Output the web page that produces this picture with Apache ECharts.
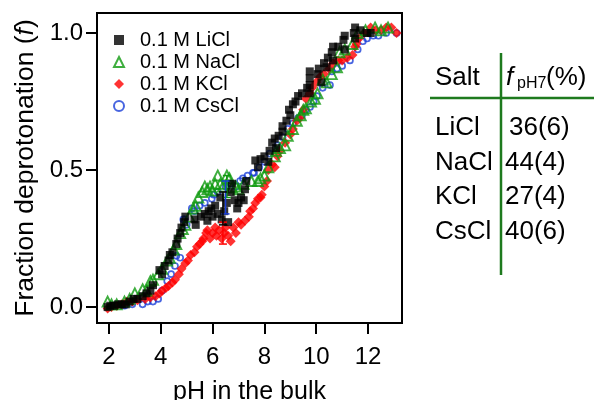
<!DOCTYPE html>
<html>
<head>
<meta charset="utf-8">
<script src="https://cdn.jsdelivr.net/npm/echarts@6/dist/echarts.min.js"></script>
<style>html,body{margin:0;padding:0;background:#fff;}#chart{width:594px;height:400px;}</style>
</head>
<body>
<div id="chart"></div>
<script>
// ---- data ----
const xTicks = [2, 4, 6, 8, 10, 12];
const yTicks = [0, 0.5, 1.0];
const seriesNames = ['0.1 M LiCl', '0.1 M NaCl', '0.1 M KCl', '0.1 M CsCl'];

const liclData = [[1.95,0.0],[2.05,0.005],[2.2,0.005],[2.35,0.01],[2.5,0.01],[2.65,0.01],[2.8,0.02],[2.95,0.03],[3.1,0.03],[3.3,0.04],[3.45,0.05],[3.6,0.06],[3.7,0.08],[3.95,0.135],[4.05,0.12],[4.15,0.15],[4.3,0.17],[4.35,0.19],[4.45,0.2],[4.6,0.23],[4.65,0.25],[4.75,0.27],[4.8,0.29],[4.9,0.31],[4.95,0.33],[5.3,0.32],[5.35,0.30],[5.55,0.33],[5.7,0.34],[5.8,0.315],[5.85,0.35],[5.95,0.36],[6.0,0.33],[6.1,0.37],[6.2,0.34],[6.3,0.40],[6.35,0.32],[6.45,0.35],[6.55,0.38],[6.6,0.31],[6.7,0.42],[6.75,0.45],[6.85,0.39],[6.95,0.36],[7.0,0.38],[7.1,0.40],[7.2,0.39],[7.25,0.43],[7.3,0.46],[7.65,0.535],[7.75,0.51],[7.85,0.54],[8.0,0.55],[8.15,0.53],[8.2,0.57],[8.3,0.6],[8.4,0.615],[8.45,0.58],[8.55,0.625],[8.7,0.66],[8.7,0.64],[8.85,0.68],[8.95,0.72],[9.0,0.70],[9.1,0.74],[9.2,0.75],[9.3,0.77],[9.45,0.78],[9.65,0.80],[9.75,0.835],[9.75,0.81],[9.75,0.86],[9.75,0.78],[10.05,0.85],[10.1,0.87],[10.2,0.82],[10.3,0.89],[10.4,0.875],[10.45,0.91],[10.6,0.93],[10.65,0.95],[10.65,0.90],[10.85,0.95],[11.05,0.975],[11.1,0.99],[11.1,0.94],[11.45,1.0],[11.5,1.02],[11.5,0.98],[11.7,1.01],[11.95,1.0],[12.1,1.0]];

const naclData = [[1.95,0.02],[2.1,0.01],[2.3,0.01],[2.6,0.02],[2.8,0.03],[3.0,0.05],[3.3,0.065],[3.45,0.06],[3.6,0.095],[3.7,0.1],[3.9,0.12],[4.05,0.14],[4.25,0.17],[4.35,0.18],[4.5,0.21],[4.6,0.23],[4.75,0.27],[4.85,0.285],[4.95,0.3],[5.1,0.33],[5.25,0.36],[5.35,0.37],[5.45,0.40],[5.6,0.42],[5.7,0.44],[5.8,0.43],[5.9,0.44],[6.0,0.425],[6.1,0.45],[6.2,0.48],[6.3,0.45],[6.4,0.44],[6.55,0.48],[6.65,0.47],[6.75,0.436],[6.9,0.44],[7.0,0.43],[7.2,0.45],[7.5,0.46],[7.75,0.46],[7.85,0.47],[8.0,0.48],[8.15,0.51],[8.4,0.55],[8.45,0.57],[8.6,0.58],[8.8,0.59],[8.9,0.625],[9.1,0.65],[9.25,0.68],[9.4,0.70],[9.5,0.72],[9.6,0.725],[9.8,0.75],[9.95,0.76],[10.05,0.78],[10.25,0.83],[10.4,0.82],[10.6,0.85],[10.8,0.875],[10.9,0.93],[11.1,0.94],[11.4,0.96],[11.6,1.0],[11.9,1.01],[12.27,1.02],[12.5,1.01],[12.77,1.02]];

const kclData = [[1.95,-0.005],[2.1,0.0],[2.3,0.005],[2.5,0.01],[2.7,0.02],[2.9,0.02],[3.1,0.025],[3.4,0.03],[3.6,0.035],[3.8,0.04],[3.95,0.05],[4.05,0.06],[4.2,0.07],[4.3,0.077],[4.45,0.09],[4.55,0.1],[4.7,0.12],[4.8,0.14],[4.95,0.16],[5.05,0.17],[5.15,0.19],[5.3,0.2],[5.4,0.22],[5.5,0.23],[5.6,0.24],[5.65,0.25],[5.75,0.27],[5.8,0.28],[5.9,0.25],[6.0,0.27],[6.1,0.29],[6.15,0.26],[6.25,0.28],[6.35,0.25],[6.45,0.27],[6.5,0.29],[6.6,0.26],[6.7,0.24],[6.8,0.29],[6.9,0.27],[7.0,0.31],[7.1,0.30],[7.25,0.315],[7.4,0.33],[7.45,0.35],[7.56,0.36],[7.65,0.38],[7.75,0.395],[7.85,0.40],[7.9,0.41],[8.0,0.44],[8.1,0.46],[8.15,0.50],[8.3,0.52],[8.4,0.51],[8.5,0.55],[8.6,0.57],[8.8,0.6],[9.0,0.63],[9.1,0.65],[9.25,0.68],[9.37,0.69],[9.5,0.72],[9.6,0.76],[9.75,0.78],[9.84,0.80],[10.0,0.82],[10.15,0.84],[10.3,0.85],[10.5,0.87],[10.65,0.89],[10.85,0.9],[11.0,0.9],[11.2,0.91],[11.4,0.92],[11.5,0.95],[11.55,0.96],[11.65,0.98],[11.85,1.0],[12.1,1.02],[12.3,1.01],[12.5,1.01],[12.7,1.02],[12.9,1.02],[13.1,1.0]];

const csclData = [[2.6,0.005],[2.9,0.01],[3.3,0.01],[3.5,0.02],[3.7,0.02],[3.9,0.03],[4.05,0.06],[4.25,0.095],[4.4,0.12],[4.55,0.15],[4.6,0.187],[4.75,0.18],[4.87,0.32],[4.93,0.32],[5.0,0.30],[5.2,0.36],[5.3,0.35],[5.5,0.37],[5.7,0.38],[5.97,0.395],[6.05,0.41],[6.2,0.42],[6.5,0.44],[6.7,0.45],[6.9,0.44],[7.06,0.46],[7.17,0.47],[7.35,0.48],[7.56,0.49],[7.6,0.49],[7.8,0.51],[8.0,0.53],[8.2,0.56],[8.5,0.59],[8.7,0.62],[8.9,0.65],[9.1,0.67],[9.3,0.69],[9.45,0.70],[9.6,0.72],[9.76,0.73],[9.9,0.75],[10.03,0.77],[10.25,0.80],[10.53,0.81],[10.6,0.86],[10.8,0.87],[11.0,0.88],[11.3,0.9],[11.6,0.94],[11.8,0.97],[11.96,0.98],[12.2,0.99],[12.4,0.99],[12.7,1.0],[13.1,1.0]];

// error bars: [pH, low, high]
const liclErr = [[6.4, 0.30, 0.42]];
const naclErr = [[6.55, 0.40, 0.48]];
const kclErr = [[6.4, 0.23, 0.31]];
const csclErr = [[6.5, 0.34, 0.46]];

// table
const tableSalts = ['LiCl', 'NaCl', 'KCl', 'CsCl'];
const tableValues = ['36(6)', '44(4)', '27(4)', '40(6)'];

// ---- chart ----
const FONT = '"Liberation Sans", Arial, Helvetica, sans-serif';
const GREEN = '#0f9a0f';
const BLUE = '#1a3fd8';
const RED = '#ff0000';
const TGREEN = '#1e7a1e';

function errSeries(name, data, color) {
  return {
    type: 'custom', name: name, data: data, z: 5, silent: true,
    renderItem: function (params, api) {
      const x = api.value(0);
      const lo = api.coord([x, api.value(1)]);
      const hi = api.coord([x, api.value(2)]);
      const w = 4;
      const st = { stroke: color, lineWidth: 1.5 };
      return { type: 'group', children: [
        { type: 'line', shape: { x1: lo[0], y1: lo[1], x2: hi[0], y2: hi[1] }, style: st },
        { type: 'line', shape: { x1: lo[0] - w, y1: lo[1], x2: lo[0] + w, y2: lo[1] }, style: st },
        { type: 'line', shape: { x1: hi[0] - w, y1: hi[1], x2: hi[0] + w, y2: hi[1] }, style: st }
      ]};
    }
  };
}

const graphics = [];
function txt(text, x, y, size, extra) {
  const s = Object.assign({ text: text, x: x, y: y, fill: '#000', font: size + 'px ' + FONT,
    textAlign: 'left', textVerticalAlign: 'middle', align: 'left', verticalAlign: 'middle' }, extra || {});
  graphics.push({ type: 'text', style: s, z: 100 });
}
txt('Salt', 435, 78, 26);
txt('f', 506, 78, 26, { font: 'italic 26px ' + FONT });
txt('pH7', 517, 84, 16);
txt('(%)', 546, 78, 26);
tableSalts.forEach(function (s, i) {
  const y = [128, 163, 197, 232][i];
  txt(s, 435, y, 26);
  txt(tableValues[i], i === 0 ? 509 : 505, y, 26);
});
graphics.push({ type: 'line', shape: { x1: 430, y1: 98, x2: 594, y2: 98 }, style: { stroke: TGREEN, lineWidth: 2.5 } });
graphics.push({ type: 'line', shape: { x1: 501, y1: 53, x2: 501, y2: 275 }, style: { stroke: TGREEN, lineWidth: 2.5 } });

const option = {
  animation: false,
  backgroundColor: '#fff',
  grid: { left: 97, right: 192, top: 13, bottom: 77, containLabel: false, outerBoundsMode: 'none',
    show: true, borderColor: '#000', borderWidth: 2, backgroundColor: 'transparent' },
  legend: {
    data: seriesNames,
    orient: 'vertical', left: 108, top: 25,
    itemWidth: 10, itemHeight: 10, itemGap: 2,
    textStyle: { fontSize: 20, fontFamily: FONT, color: '#000', lineHeight: 20, padding: [0, 0, 0, 11] },
    selectedMode: false
  },
  xAxis: {
    type: 'value', min: 1.54, max: 13.31,
    name: 'pH in the bulk', nameLocation: 'middle', nameGap: 57,
    nameTextStyle: { fontSize: 25, fontFamily: FONT, color: '#000' },
    axisLine: { show: true, onZero: false, lineStyle: { color: '#000', width: 2 } },
    axisTick: { show: true, customValues: xTicks, length: 11, lineStyle: { color: '#000', width: 2 } },
    axisLabel: { customValues: xTicks, margin: 22, fontSize: 24, fontFamily: FONT, color: '#000' },
    splitLine: { show: false }
  },
  yAxis: {
    type: 'value', min: -0.058, max: 1.073,
    name: 'Fraction deprotonation ({i|f})', nameLocation: 'middle', nameGap: 58,
    nameTextStyle: { fontSize: 26.5, fontFamily: FONT, color: '#000',
      rich: { i: { fontSize: 26.5, fontFamily: FONT, fontStyle: 'italic', color: '#000' } } },
    axisLine: { show: true, onZero: false, lineStyle: { color: '#000', width: 2 } },
    axisTick: { show: true, customValues: yTicks, length: 11, lineStyle: { color: '#000', width: 2 } },
    axisLabel: { customValues: yTicks, margin: 14, fontSize: 24, fontFamily: FONT, color: '#000',
      formatter: function (v) { return v.toFixed(1); } },
    splitLine: { show: false }
  },
  series: [
    { type: 'scatter', name: seriesNames[3], data: csclData, symbol: 'circle', symbolSize: 6, z: 2,
      itemStyle: { color: 'transparent', borderColor: BLUE, borderWidth: 1.7 } },
    { type: 'scatter', name: seriesNames[2], data: kclData, symbol: 'diamond', symbolSize: 10, z: 3,
      itemStyle: { color: RED } },
    { type: 'scatter', name: seriesNames[1], data: naclData, symbol: 'triangle', symbolSize: 10, z: 3,
      itemStyle: { color: 'transparent', borderColor: GREEN, borderWidth: 1.9 } },
    { type: 'scatter', name: seriesNames[0], data: liclData, symbol: 'rect', symbolSize: 8, z: 4,
      itemStyle: { color: '#000' } },
    errSeries('err K', kclErr, RED),
    errSeries('err Na', naclErr, GREEN),
    errSeries('err Cs', csclErr, BLUE),
    errSeries('err Li', liclErr, '#000')
  ],
  graphic: graphics
};

const chart = echarts.init(document.getElementById('chart'), null, { renderer: 'canvas' });
chart.setOption(option);
</script>
</body>
</html>
